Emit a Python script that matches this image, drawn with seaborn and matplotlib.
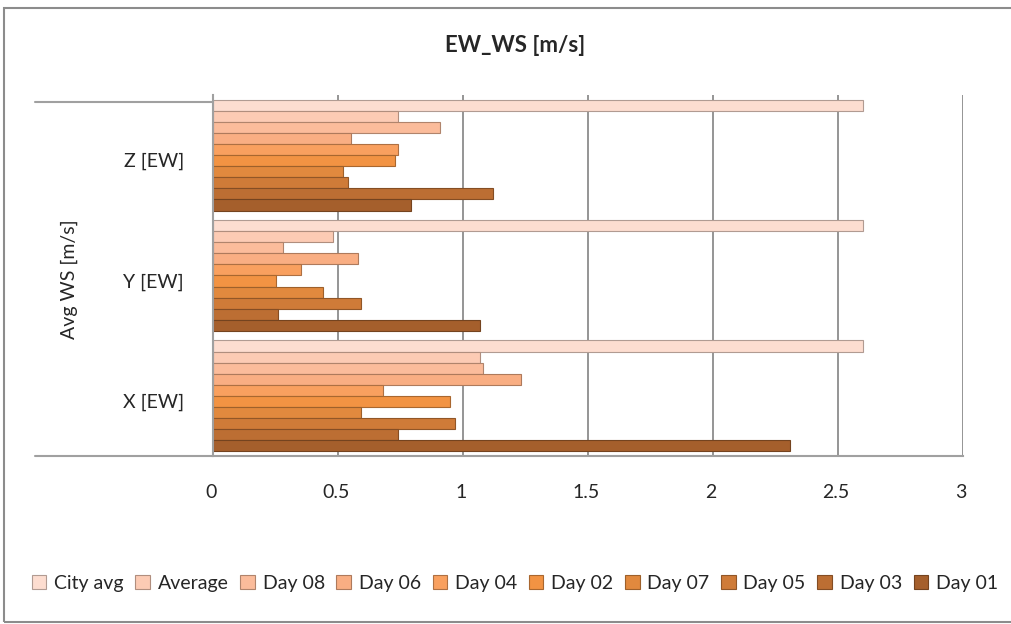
import matplotlib
matplotlib.use("Agg")
import matplotlib.pyplot as plt
import matplotlib.lines as mlines
import matplotlib.patches as mpatches
import matplotlib.transforms as mtransforms
import seaborn as sns
import pandas as pd

# Stations (top to bottom) and series (top bar of each group first)
categories = ["Z [EW]", "Y [EW]", "X [EW]"]
series = ["City avg", "Average", "Day 08", "Day 06", "Day 04",
          "Day 02", "Day 07", "Day 05", "Day 03", "Day 01"]

city_avg = [2.60, 2.60, 2.60]
average = [0.74, 0.48, 1.07]
day_08 = [0.91, 0.28, 1.08]
day_06 = [0.55, 0.58, 1.23]
day_04 = [0.74, 0.35, 0.68]
day_02 = [0.73, 0.25, 0.95]
day_07 = [0.52, 0.44, 0.59]
day_05 = [0.54, 0.59, 0.97]
day_03 = [1.12, 0.26, 0.74]
day_01 = [0.79, 1.07, 2.31]

x_ticks = [0, 0.5, 1, 1.5, 2, 2.5, 3]
x_tick_labels = ["0", "0.5", "1", "1.5", "2", "2.5", "3"]

colors = ["#FDDDD0", "#FCCBB4", "#FBBC9B", "#F9AE83", "#F9A05F",
          "#F29343", "#E1893E", "#CF7B38", "#BC6E33", "#A55F2C"]

values = [city_avg, average, day_08, day_06, day_04,
          day_02, day_07, day_05, day_03, day_01]
rows = []
for name, vals in zip(series, values):
    for cat, v in zip(categories, vals):
        rows.append({"station": cat, "series": name, "ws": v})
df = pd.DataFrame(rows)

sns.set_theme(style="white")
plt.rcParams["font.family"] = ["Lato", "DejaVu Sans"]

W, H = 1011, 624
fig = plt.figure(figsize=(W / 100, H / 100), dpi=100)
fig.patch.set_facecolor("white")

ax = fig.add_axes([213 / W, 1 - 456 / H, (963 - 213) / W, (456 - 95) / H])

sns.barplot(data=df, y="station", x="ws", hue="series", orient="h",
            order=categories, hue_order=series, palette=colors,
            width=0.92, ax=ax, errorbar=None, saturation=1)

# darker rim on each bar for a rounded look
for patch in ax.patches:
    fc = patch.get_facecolor()
    patch.set_edgecolor(tuple(c * 0.7 for c in fc[:3]) + (1,))
    patch.set_linewidth(0.8)

ax.set_xlim(0, 3)
ax.set_xticks(x_ticks)
ax.set_xticklabels(x_tick_labels, fontsize=14)
ax.tick_params(axis="x", length=0, pad=20)
ax.tick_params(axis="y", length=0, pad=21, labelsize=14)
shift_down = mtransforms.ScaledTranslation(0, -5 / 100, fig.dpi_scale_trans)
for lbl in ax.get_yticklabels():
    lbl.set_transform(lbl.get_transform() + shift_down)
shift_left = mtransforms.ScaledTranslation(-2 / 100, 0, fig.dpi_scale_trans)
for lbl in ax.get_xticklabels():
    lbl.set_transform(lbl.get_transform() + shift_left)
ax.xaxis.grid(True, color="#8C8C8C", linewidth=1.3)
ax.yaxis.grid(False)
ax.set_axisbelow(True)
for side in ["top", "right"]:
    ax.spines[side].set_visible(False)
for side in ["left", "bottom"]:
    ax.spines[side].set_color("#A0A0A0")
    ax.spines[side].set_linewidth(1.5)
ax.set_xlabel("")
ax.set_ylabel("Avg WS [m/s]", fontsize=14)
ax.yaxis.set_label_coords(-0.18, 0.49)

# category-axis edge lines reaching to the left
for yy in (102, 456):
    fig.add_artist(mlines.Line2D([35 / W, 213 / W], [1 - yy / H, 1 - yy / H],
                                 color="#A0A0A0", linewidth=1.5))

fig.text(0.51, 1 - 45 / H, "EW_WS [m/s]", ha="center", va="center",
         fontsize=16, fontweight="bold")

handles, labels = ax.get_legend_handles_labels()
ax.legend_.remove()
fig.legend(handles, labels, loc="center left",
           bbox_to_anchor=(24 / W, 1 - 583 / H), ncol=10, frameon=False,
           fontsize=14, handlelength=0.75, handleheight=0.75,
           handletextpad=0.4, columnspacing=0.6, borderaxespad=0)

# chart-area border
fig.add_artist(mpatches.Rectangle((4 / W, 2 / H), 1.2, 1 - 10 / H,
                                  transform=fig.transFigure, fill=False,
                                  edgecolor="#8C8C8C", linewidth=1.5))

fig.savefig("out.png", dpi=100)
